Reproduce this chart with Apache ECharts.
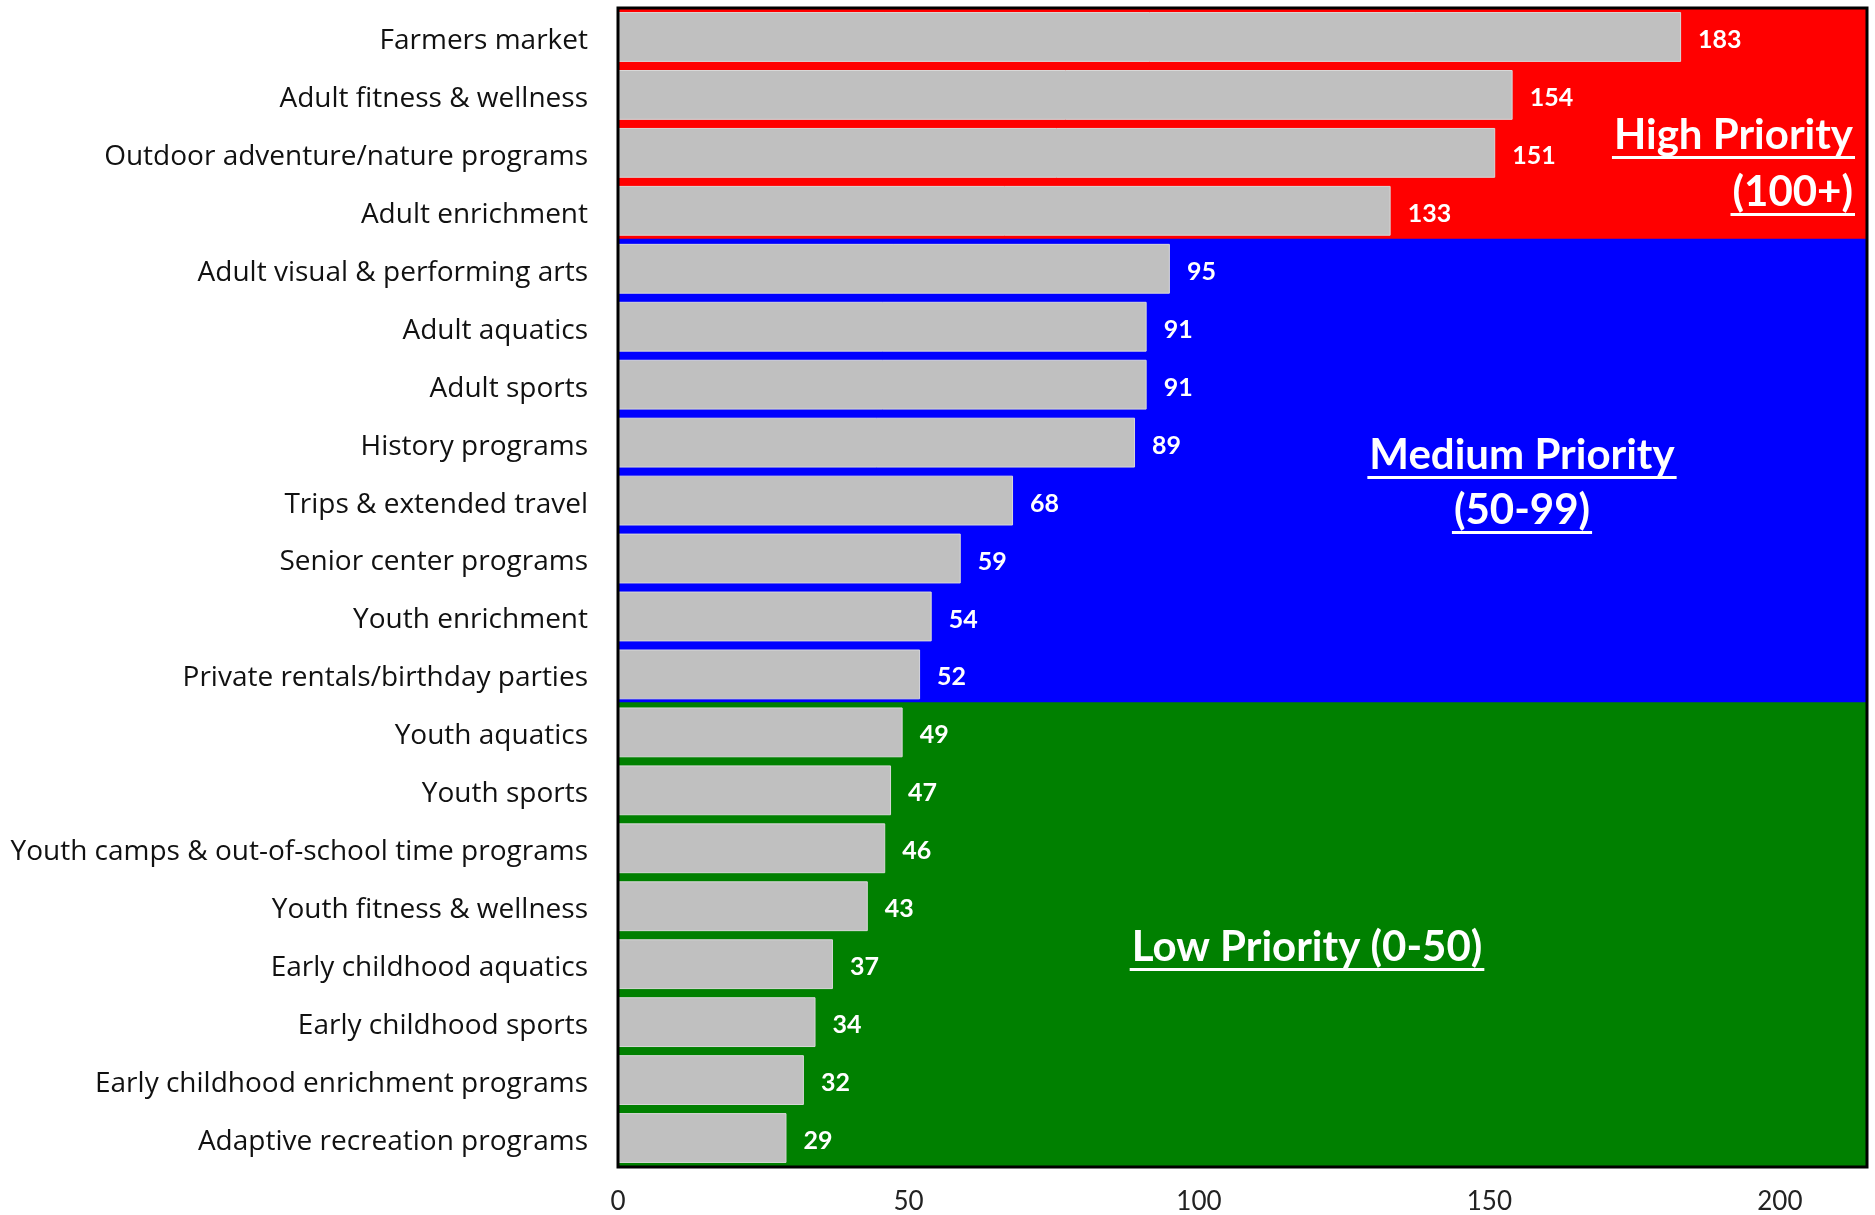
<!DOCTYPE html>
<html>
<head>
<meta charset="utf-8">
<script src="https://cdn.jsdelivr.net/npm/echarts@6/dist/echarts.min.js"></script>
<style>
  html, body { margin: 0; padding: 0; background: #fff; }
  #myEcharts { width: 1875px; height: 1215px; }
</style>
</head>
<body>
<div id="myEcharts"></div>
<script>
// categories, top to bottom
var programs = [
  'Farmers market', 'Adult fitness & wellness', 'Outdoor adventure/nature programs',
  'Adult enrichment', 'Adult visual & performing arts', 'Adult aquatics', 'Adult sports',
  'History programs', 'Trips & extended travel', 'Senior center programs', 'Youth enrichment',
  'Private rentals/birthday parties', 'Youth aquatics', 'Youth sports',
  'Youth camps & out-of-school time programs', 'Youth fitness & wellness',
  'Early childhood aquatics', 'Early childhood sports', 'Early childhood enrichment programs',
  'Adaptive recreation programs'
];
var scores = [183, 154, 151, 133, 95, 91, 91, 89, 68, 59, 54, 52, 49, 47, 46, 43, 37, 34, 32, 29];
var xTicks = [0, 50, 100, 150, 200];
var xMax = 215;

var highColor = '#ff0000';
var mediumColor = '#0000ff';
var lowColor = '#008000';

var chartDom = document.getElementById('myEcharts');
var myChart = echarts.init(chartDom);

// background band per row, coloured by priority of that row
var bandData = scores.map(function (v) {
  var c = v >= 100 ? highColor : (v >= 50 ? mediumColor : lowColor);
  return { value: xMax, itemStyle: { color: c } };
});

// text width helper for the underlines
var ctx = document.createElement('canvas').getContext('2d');
function textWidth(str, font) {
  ctx.font = font;
  return ctx.measureText(str).width;
}

var labelFont = 'Lato';
var catFont = 'Open Sans';
var bigSize = 42;
function underlined(str, x, y, align) {
  var w = textWidth(str, 'bold ' + bigSize + 'px ' + labelFont);
  var left = align === 'right' ? x - w : (align === 'center' ? x - w / 2 : x);
  return [
    {
      type: 'text', z: 20,
      style: {
        text: str, x: x, y: y, fill: '#fff',
        font: 'bold ' + bigSize + 'px ' + labelFont,
        align: align, verticalAlign: 'middle'
      }
    },
    {
      type: 'rect', z: 20,
      shape: { x: left - 2, y: y + 21, width: w + 4, height: 3 },
      style: { fill: '#fff' }
    }
  ];
}

var graphics = [].concat(
  underlined('High Priority', 1853, 135, 'right'),
  underlined('(100+)', 1853, 192, 'right'),
  underlined('Medium Priority', 1522, 455, 'center'),
  underlined('(50-99)', 1522, 510, 'center'),
  underlined('Low Priority (0-50)', 1307, 947, 'center')
);

var option = {
  animation: false,
  backgroundColor: '#fff',
  grid: {
    left: 618, right: 8, top: 8, bottom: 47,
    show: true, z: 10,
    backgroundColor: 'transparent',
    borderColor: '#000', borderWidth: 3
  },
  xAxis: {
    type: 'value', min: 0, max: xMax, interval: 50,
    splitLine: { show: false },
    axisLine: { show: false },
    axisTick: { show: false },
    axisLabel: {
      showMaxLabel: false,
      margin: 22,
      fontFamily: labelFont, fontSize: 26, color: '#222',
      formatter: function (v) { return xTicks.indexOf(v) >= 0 ? String(v) : ''; }
    }
  },
  yAxis: [
    {
      type: 'category', data: programs, inverse: true,
      axisLine: { show: false },
      axisTick: { show: false },
      axisLabel: {
        margin: 30,
        formatter: function (v) { return '{c|' + v + '}'; },
        rich: {
          c: { fontFamily: catFont, fontSize: 28, color: '#111', padding: [8, 0, 0, 0] }
        }
      }
    },
    {
      type: 'category', data: programs, inverse: true, show: false
    }
  ],
  series: [
    {
      name: 'band', type: 'bar', yAxisIndex: 1,
      barWidth: '104%', z: 1, silent: true,
      data: bandData
    },
    {
      name: 'score', type: 'bar', yAxisIndex: 0,
      barCategoryGap: '14%', z: 3,
      data: scores,
      itemStyle: { color: '#c0c0c0', borderColor: '#d8d8d8', borderWidth: 1 },
      label: {
        show: true, position: 'right', distance: 17, offset: [0, 3],
        color: '#fff', fontWeight: 'bold', fontFamily: labelFont, fontSize: 25
      }
    }
  ],
  graphic: graphics
};

myChart.setOption(option);
</script>
</body>
</html>
